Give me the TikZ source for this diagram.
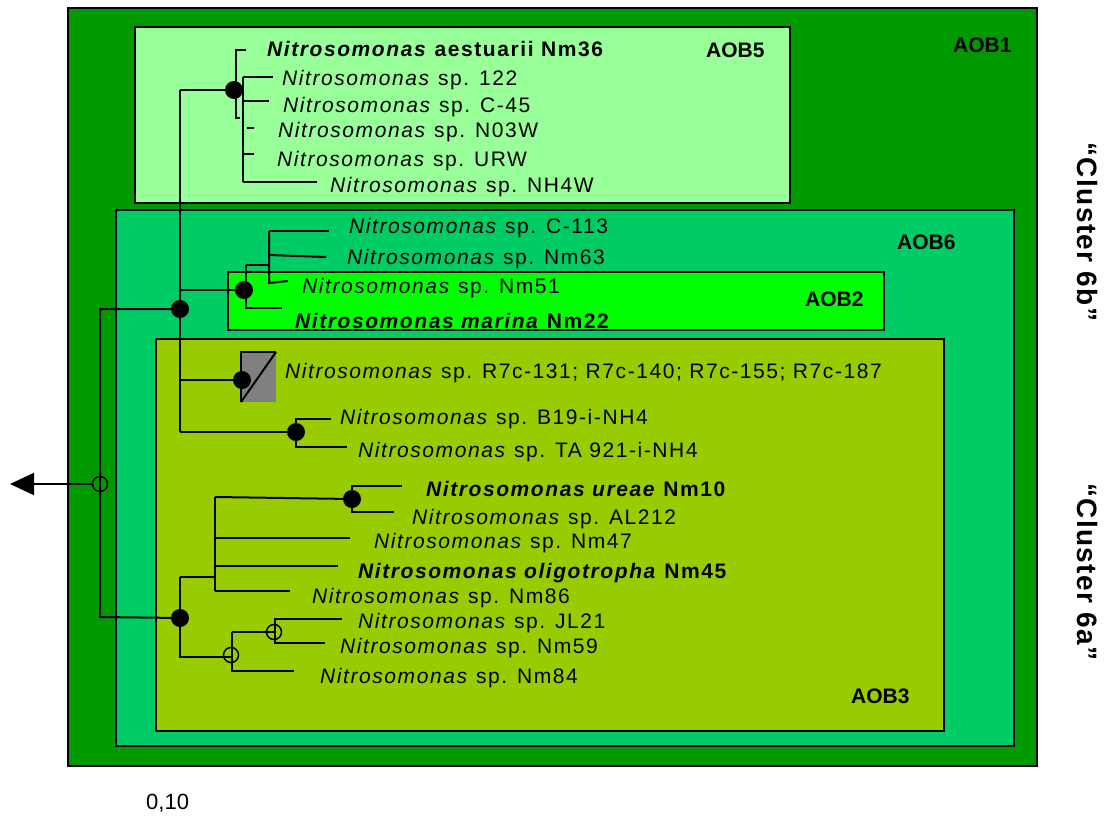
\documentclass[tikz,border=0pt]{standalone}
\usepackage{fontspec}
\setmainfont{Liberation Sans}
\newfontfamily\lab[LetterSpace=7.5]{Liberation Sans}
\newfontfamily\clusfont[LetterSpace=5]{Liberation Sans}
\usetikzlibrary{arrows.meta}
\definecolor{aobone}{HTML}{009900}
\definecolor{aobfive}{HTML}{99FF99}
\definecolor{aobsix}{HTML}{00CC66}
\definecolor{aobtwo}{HTML}{00FF00}
\definecolor{aobthree}{HTML}{99CC00}
\definecolor{grsq}{HTML}{808080}
\begin{document}
\begin{tikzpicture}[x=1pt,y=-1pt,
  br/.style={line width=2pt},
  fdot/.style={circle,fill=black,inner sep=0pt,minimum size=18pt},
  odot/.style={circle,draw=black,line width=1.5pt,inner sep=0pt,minimum size=15pt},
  leaf/.style={anchor=base west,inner sep=0pt,font=\lab\fontsize{21}{25}\selectfont},
  aob/.style={anchor=base west,inner sep=0pt,font=\fontsize{21}{25}\selectfont\bfseries},
  clus/.style={rotate=-90,inner sep=0pt,font=\clusfont\bfseries\fontsize{28}{32}\selectfont},
  box/.style={draw=black,line width=2pt}]
\fill[white] (0,0) rectangle (1106,816);
\useasboundingbox (0,0) rectangle (1106,816);

% boxes
\draw[box,fill=aobone]   (68,8)    rectangle (1037,766);
\draw[box,fill=aobfive]  (135,27)  rectangle (790,203);
\draw[box,fill=aobsix]   (116,210) rectangle (1014,746);
\draw[box,fill=aobtwo]   (228,272) rectangle (884,330);
\draw[box,fill=aobthree] (156,339) rectangle (944,731);

% box labels
\node[aob] (l1) at (953,53)  {AOB1};
\node[aob] (l5) at (706,58)  {AOB5};
\node[aob] (l6) at (897,249) {AOB6};
\node[aob] (l2) at (805,306) {AOB2};
\node[aob] (l3) at (851,703) {AOB3};

\node[clus] (c6b) at (1087,232) {“Cluster 6b”};
\node[clus] (c6a) at (1087,572) {“Cluster 6a”};

\node[anchor=base west,inner sep=0pt,font=\fontsize{22}{26}\selectfont] (sc) at (146,809) {0,10};

% leaves
\node[leaf] (L36)   at (267,57)  {\textbf{\textit{Nitrosomonas} aestuarii Nm36}};
\node[leaf] (L122)  at (282,85)  {\textit{Nitrosomonas} sp. 122};
\node[leaf] (LC45)  at (283,112) {\textit{Nitrosomonas} sp. C-45};
\node[leaf] (LN03W) at (278,137) {\textit{Nitrosomonas} sp. N03W};
\node[leaf] (LURW)  at (277,166) {\textit{Nitrosomonas} sp. URW};
\node[leaf] (LNH4W) at (330,192) {\textit{Nitrosomonas} sp. NH4W};
\node[leaf] (LC113) at (349,233) {\textit{Nitrosomonas} sp. C-113};
\node[leaf] (LNm63) at (347,264) {\textit{Nitrosomonas} sp. Nm63};
\node[leaf] (LNm51) at (302,293) {\textit{Nitrosomonas} sp. Nm51};
\node[leaf] (LNm22) at (295,328) {\textbf{\textit{Nitrosomonas marina} Nm22}};
\node[leaf] (LR7c)  at (285,378) {\textit{Nitrosomonas} sp. R7c-131; R7c-140; R7c-155; R7c-187};
\node[leaf] (LB19)  at (340,424) {\textit{Nitrosomonas} sp. B19-i-NH4};
\node[leaf] (LTA)   at (358,457) {\textit{Nitrosomonas} sp. TA 921-i-NH4};
\node[leaf] (LNm10) at (426,496) {\textbf{\textit{Nitrosomonas ureae} Nm10}};
\node[leaf] (LAL)   at (412,524) {\textit{Nitrosomonas} sp. AL212};
\node[leaf] (LNm47) at (374,548) {\textit{Nitrosomonas} sp. Nm47};
\node[leaf] (LNm45) at (358,578) {\textbf{\textit{Nitrosomonas oligotropha} Nm45}};
\node[leaf] (LNm86) at (312,603) {\textit{Nitrosomonas} sp. Nm86};
\node[leaf] (LJL)   at (358,628) {\textit{Nitrosomonas} sp. JL21};
\node[leaf] (LNm59) at (340,653) {\textit{Nitrosomonas} sp. Nm59};
\node[leaf] (LNm84) at (320,683) {\textit{Nitrosomonas} sp. Nm84};

% junction positions
\coordinate (p5) at (234,90);
\coordinate (p6) at (180,309);
\coordinate (p2) at (244,290);
\coordinate (pR) at (242,380);
\coordinate (pB) at (296,432);
\coordinate (p3) at (180,618);
\coordinate (pU) at (352,499);
\coordinate (pRoot) at (100,484);
\coordinate (pJ) at (231,655);
\coordinate (pK) at (274,632);
\coordinate (mt) at (180,90);
\coordinate (mb) at (180,432);
\coordinate (out) at (10,484);

% main stem
\draw[br] (mt) -- (mb);
\draw[br] (mt) -- (p5);

% AOB5 clade
\coordinate (v5a) at (236,50);
\coordinate (v5a2) at (236,118);
\draw[br] (246,50) -- (v5a) -- (v5a2) -- (240,118);
\coordinate (v5b) at (243,77);
\coordinate (v5b2) at (243,182);
\draw[br] (v5b) -- (v5b2);
\draw[br] (v5b) -- (273,77);
\draw[br] (243,101) -- (269,101);
\draw[br] (247,128) -- (254,128);
\draw[br] (244,154) -- (254,154);
\draw[br] (v5b2) -- (317,182);

% root
\coordinate (lt) at (100,309);
\coordinate (lb) at (100,617);
\draw[br] (p6) -- (lt) -- (lb) -- (p3);
\draw[br,-{Triangle[length=24pt,width=22pt]}] (92,484) -- (out);

% AOB6 / AOB2 clade
\draw[br] (mt |- p2) -- (p2);
\coordinate (v2a) at (246,265);
\coordinate (v2b) at (246,308);
\draw[br] (v2a) -- (v2b) -- (282,308);
\coordinate (v2c) at (269,231);
\coordinate (v2d) at (269,283);
\draw[br] (v2a) -- (v2c |- v2a);
\draw[br] (v2c) -- (v2d) -- (288,281);
\draw[br] (v2c) -- (329,231);
\draw[br] (269,255) -- (326,257);

% R7c group
\fill[grsq] (241,352) rectangle (276,402);
\draw[br] (241,402) -- (241,352) -- (276,352);
\draw[br] (241,402) -- (276,352);
\draw[br] (mt |- pR) -- (pR);

% B19 / TA921
\draw[br] (mb) -- (pB);
\draw[br] (331,419) -- (296,419) -- (296,447) -- (347,447);

% AOB3 lower clade
\draw[br] (180,577) -- (180,657) -- (232,657);
\draw[br] (180,577) -- (215,577);
\draw[br] (215,497) -- (215,591);
\draw[br] (215,497) -- (pU);
\draw[br] (402,486) -- (352,486) -- (352,512) -- (394,512);
\draw[br] (215,538) -- (350,538);
\draw[br] (215,566) -- (338,566);
\draw[br] (215,591) -- (290,591);
\draw[br] (232,632) -- (232,671) -- (294,671);
\draw[br] (232,632) -- (275,632);
\draw[br] (342,619) -- (275,619) -- (275,643) -- (325,643);

% junction markers
\node[fdot] (n5) at (p5) {};
\node[fdot] (n6) at (p6) {};
\node[fdot] (n2) at (p2) {};
\node[fdot] (nR) at (pR) {};
\node[fdot] (nB) at (pB) {};
\node[fdot] (n3) at (p3) {};
\node[fdot] (nU) at (pU) {};
\node[odot] (root) at (pRoot) {};
\node[odot] (nJ) at (pJ) {};
\node[odot] (nK) at (pK) {};
\end{tikzpicture}
\end{document}
